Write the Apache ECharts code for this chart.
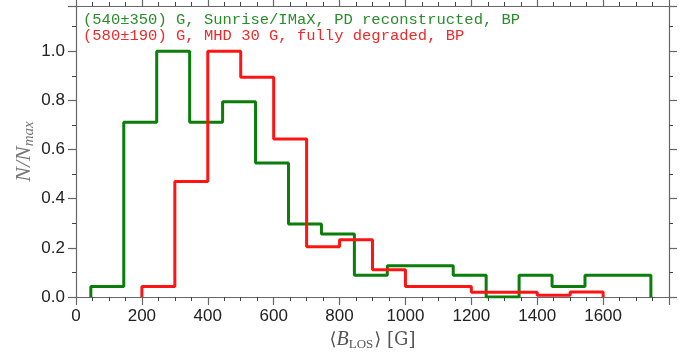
<!DOCTYPE html>
<html>
<head>
<meta charset="utf-8">
<script src="https://cdn.jsdelivr.net/npm/echarts@6/dist/echarts.min.js"></script>
<style>html,body{margin:0;padding:0;background:#fff}#c{width:694px;height:361px}</style>
</head>
<body>
<div id="c"></div>
<script>
// Bin edges (G) and normalised counts per bin
const greenEdges = [45,145,245,345,445,545,645,745,845,945,1045,1145,1245,1345,1445,1545,1645,1745];
const greenValues = [0.043,0.711,1.0,0.711,0.794,0.545,0.297,0.256,0.088,0.127,0.127,0.088,0.0,0.088,0.043,0.088,0.088];
const redEdges = [200,300,400,500,600,700,800,900,1000,1100,1200,1300,1400,1500,1600];
const redValues = [0.043,0.47,1.0,0.894,0.643,0.204,0.233,0.111,0.043,0.043,0.019,0.019,0.007,0.02];
const greenLabel = '(540\u00b1350) G, Sunrise/IMaX, PD reconstructed, BP';
const redLabel = '(580\u00b1190) G, MHD 30 G, fully degraded, BP';
const xTicks = [0,200,400,600,800,1000,1200,1400,1600];
const yTicks = [0.0,0.2,0.4,0.6,0.8,1.0];

function stepData(edges, vals){
  const d = [[edges[0], 0]];
  for (let i = 0; i < vals.length; i++) d.push([edges[i], vals[i]]);
  d.push([edges[edges.length-1], 0]);
  return d;
}

const axisCol = '#666';
const chart = echarts.init(document.getElementById('c'), null, {renderer:'canvas'});
const commonX = {
  type:'value', min:0, max:1800, interval:200,
  axisLine:{show:true, onZero:false, lineStyle:{color:axisCol, width:1.2}},
  axisTick:{show:true, inside:false, length:8, lineStyle:{color:axisCol, width:1.2}},
  minorTick:{show:true, splitNumber:4, length:4, lineStyle:{color:'#444', width:1}},
  splitLine:{show:false}
};
const commonY = {
  type:'value', min:0, max:1.184, interval:0.2,
  axisLine:{show:true, onZero:false, lineStyle:{color:axisCol, width:1.2}},
  axisTick:{show:true, inside:false, length:8, lineStyle:{color:axisCol, width:1.2}},
  minorTick:{show:true, splitNumber:2, length:4, lineStyle:{color:'#444', width:1}},
  splitLine:{show:false}
};
chart.setOption({
  animation:false,
  grid:{left:76, right:25, top:6, bottom:64, containLabel:false},
  xAxis:[
    Object.assign({}, commonX, {
      position:'bottom',
      axisLabel:{show:true, margin:11, color:'#222', fontFamily:'Liberation Sans, Arial, sans-serif', fontSize:17,
        formatter:(v)=> xTicks.includes(v) ? String(v) : ''},
      name:'{a|\u27e8}{b|B}{c|LOS}{a|\u27e9 [G]}',
      nameLocation:'middle', nameGap:32,
      nameTextStyle:{color:'#555', rich:{
        a:{fontFamily:'DejaVu Serif, serif', fontSize:18, color:'#555'},
        b:{fontFamily:'Liberation Serif, serif', fontStyle:'italic', fontSize:20, color:'#555'},
        c:{fontFamily:'Liberation Serif, serif', fontSize:13, color:'#555', padding:[9,1,0,0]}
      }}
    }),
    Object.assign({}, commonX, {position:'top', axisLabel:{show:false}})
  ],
  yAxis:[
    Object.assign({}, commonY, {
      position:'left',
      axisLabel:{show:true, margin:11, color:'#222', fontFamily:'Liberation Sans, Arial, sans-serif', fontSize:17,
        formatter:(v)=>{ const t = yTicks.find(k=>Math.abs(k-v)<1e-6); return t===undefined ? '' : t.toFixed(1); }},
      name:'{n|N/N}{s|max}',
      nameLocation:'middle', nameGap:39, nameRotate:90, nameMoveOverlap:false,
      nameTextStyle:{color:'#777', rich:{
        n:{fontFamily:'Liberation Serif, serif', fontStyle:'italic', fontSize:22, color:'#777'},
        s:{fontFamily:'Liberation Serif, serif', fontStyle:'italic', fontSize:15, color:'#777', padding:[10,0,0,0]}
      }}
    }),
    Object.assign({}, commonY, {position:'right', axisLabel:{show:false}})
  ],
  graphic:[
    {type:'text', left:83, top:12, style:{text:greenLabel, fill:'#2a8c2a', font:'15.5px "Liberation Mono", monospace'}},
    {type:'text', left:83, top:28, style:{text:redLabel, fill:'#ee2a2a', font:'15.5px "Liberation Mono", monospace'}}
  ],
  series:[
    {type:'line', step:'end', data:stepData(greenEdges, greenValues), symbol:'none',
      lineStyle:{color:'#0a7d0a', width:3}, xAxisIndex:0, yAxisIndex:0, z:3},
    {type:'line', step:'end', data:stepData(redEdges, redValues), symbol:'none',
      lineStyle:{color:'#ff1414', width:3}, xAxisIndex:0, yAxisIndex:0, z:4}
  ]
});
</script>
</body>
</html>
